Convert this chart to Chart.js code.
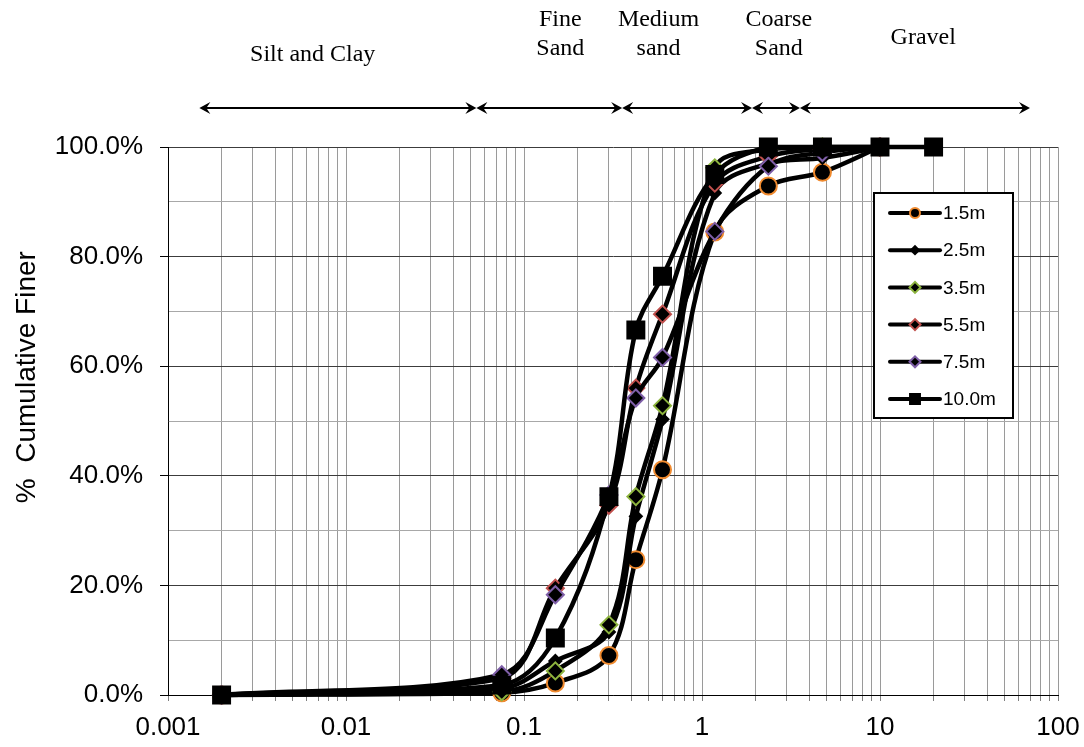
<!DOCTYPE html>
<html>
<head>
<meta charset="utf-8">
<title>Grain size distribution</title>
<script src="https://cdn.jsdelivr.net/npm/chart.js@4.4.0/dist/chart.umd.min.js"></script>
<style>
    html, body { margin: 0; padding: 0; background: #fff; }
    #wrap { width: 1084px; height: 747px; }
</style>
</head>
<body>
<div id="wrap"><canvas id="grading" width="1084" height="747"></canvas></div>
<script>
(function(){
    'use strict';
// -------- data --------
    const sieveSizes = [0.002, 0.075, 0.15, 0.3, 0.425, 0.6, 1.18, 2.36, 4.75, 10, 20];
    const depths = ['1.5m', '2.5m', '3.5m', '5.5m', '7.5m', '10.0m'];
    const finer_1_5 = [0, 0.4, 2.2, 7.2, 24.7, 41.1, 84.5, 92.9, 95.4, 100];
    const finer_2_5 = [0, 1.2, 6.2, 11.5, 32.6, 50.3, 91.6, 97.0, 98.0, 100];
    const finer_3_5 = [0, 0.6, 4.4, 12.8, 36.2, 52.8, 96.2, 99.6, 100, 100];
    const finer_5_5 = [0, 3.0, 19.5, 34.6, 56.0, 69.5, 93.4, 98.3, 99.6, 100];
    const finer_7_5 = [0, 3.7, 18.3, 36.5, 54.2, 61.6, 84.6, 96.5, 99.0, 100];
    const finer_10_0 = [0, 1.8, 10.4, 36.2, 66.6, 76.4, 95.0, 100, 100, 100, 100];

    const xTickLabels = ['0.001', '0.01', '0.1', '1', '10', '100'];
    const yTickLabels = ['0.0%', '20.0%', '40.0%', '60.0%', '80.0%', '100.0%'];

    // soil classes drawn above the plot
    const zoneNames = [['Silt and Clay'], ['Fine', 'Sand'], ['Medium', 'sand'], ['Coarse', 'Sand'], ['Gravel']];
    const zoneLabelAt = [0.0065, 0.16, 0.57, 2.7, 17.5];
    const zoneLimits = [0.0015, 0.054, 0.356, 1.91, 3.55, 69.6];

    // ---- styles ----
    const SANS = '"Liberation Sans", Arial, sans-serif';
    const SERIF = '"Liberation Serif", "Times New Roman", serif';
    const allFiner = [finer_1_5, finer_2_5, finer_3_5, finer_5_5, finer_7_5, finer_10_0];
    const markStyle = [
        {shape: 'circle',  edge: '#F08A2E', r: 8.5, lr: 5},
        {shape: 'rectRot', edge: '#000000', r: 6,   lr: 4},
        {shape: 'rectRot', edge: '#8DB43E', r: 8.5, lr: 5.5},
        {shape: 'rectRot', edge: '#C0504D', r: 8.5, lr: 5.5},
        {shape: 'rectRot', edge: '#7F5FA8', r: 8.5, lr: 5.5},
        {shape: 'rect',    edge: '#000000', r: 12,  lr: 7}
    ];
    const zoneTextTop = [-92, -127, -127, -127, -109];

    const xDecades = xTickLabels.map(parseFloat);
    const yLabelFor = {};
    yTickLabels.forEach(function(l){ yLabelFor[parseFloat(l)] = l; });

    const datasets = depths.map(function(name, i){
        const st = markStyle[i];
        return {
            label: name,
            data: allFiner[i].map(function(v, k){ return {x: sieveSizes[k], y: v}; }),
            borderColor: '#000',
            borderWidth: 4.5,
            tension: 0.35,
            clip: false,
            pointStyle: st.shape,
            pointRadius: st.r,
            pointBackgroundColor: '#000',
            pointBorderColor: st.edge,
            pointBorderWidth: 2,
            order: depths.length - i
        };
    });

    function drawMarker(ctx, shape, x, y, r, edge){
        ctx.beginPath();
        if (shape === 'circle') {
            ctx.arc(x, y, r, 0, Math.PI * 2);
        } else if (shape === 'rectRot') {
            ctx.moveTo(x - r, y); ctx.lineTo(x, y - r);
            ctx.lineTo(x + r, y); ctx.lineTo(x, y + r);
            ctx.closePath();
        } else {
            const s = r * Math.SQRT1_2;
            ctx.rect(x - s, y - s, 2 * s, 2 * s);
        }
        ctx.fillStyle = '#000';
        ctx.fill();
        ctx.lineWidth = 2;
        ctx.strokeStyle = edge;
        ctx.stroke();
    }

    function arrowHead(ctx, tipX, y, dir){
        // dir = -1 points left, 1 points right
        ctx.beginPath();
        ctx.moveTo(tipX, y);
        ctx.lineTo(tipX - dir * 11, y - 6);
        ctx.lineTo(tipX - dir * 7, y);
        ctx.lineTo(tipX - dir * 11, y + 6);
        ctx.closePath();
        ctx.fill();
    }

    const extras = {
        id: 'extras',
        afterDraw: function(chart){
            const ctx = chart.ctx;
            const area = chart.chartArea;
            const xs = chart.scales.x;
            ctx.save();

            // y axis title
            ctx.save();
            ctx.translate(27, area.top + 0.42 * (area.bottom - area.top));
            ctx.rotate(-Math.PI / 2);
            ctx.font = '28px ' + SANS;
            ctx.fillStyle = '#000';
            ctx.textAlign = 'center';
            ctx.textBaseline = 'middle';
            ctx.fillText('%  Cumulative Finer', 0, 0);
            ctx.restore();

            // class arrows
            const ay = area.top - 39;
            ctx.strokeStyle = '#000';
            ctx.fillStyle = '#000';
            ctx.lineWidth = 2;
            for (let i = 0; i < zoneLimits.length - 1; i++) {
                const x1 = xs.getPixelForValue(zoneLimits[i]);
                const x2 = xs.getPixelForValue(zoneLimits[i + 1]);
                ctx.beginPath();
                ctx.moveTo(x1 + 4, ay);
                ctx.lineTo(x2 - 4, ay);
                ctx.stroke();
                arrowHead(ctx, x1, ay, -1);
                arrowHead(ctx, x2, ay, 1);
            }

            // class names
            ctx.font = '24px ' + SERIF;
            ctx.textAlign = 'center';
            ctx.textBaseline = 'middle';
            zoneNames.forEach(function(lines, i){
                const cx = xs.getPixelForValue(zoneLabelAt[i]);
                lines.forEach(function(t, k){
                    ctx.fillText(t, cx, area.top + zoneTextTop[i] + k * 29);
                });
            });

            // legend box
            const bx = area.right - 184, by = area.top + 46, bw = 139, bh = 225;
            ctx.fillStyle = '#fff';
            ctx.fillRect(bx, by, bw, bh);
            ctx.lineWidth = 2;
            ctx.strokeStyle = '#000';
            ctx.strokeRect(bx, by, bw, bh);
            ctx.font = '19px ' + SANS;
            ctx.textAlign = 'left';
            ctx.textBaseline = 'middle';
            depths.forEach(function(name, i){
                const ry = by + 20 + i * 37.2;
                const st = markStyle[i];
                ctx.beginPath();
                ctx.lineWidth = 4;
                ctx.lineCap = 'round';
                ctx.strokeStyle = '#000';
                ctx.moveTo(bx + 16, ry);
                ctx.lineTo(bx + 66, ry);
                ctx.stroke();
                ctx.lineCap = 'butt';
                drawMarker(ctx, st.shape, bx + 41, ry, st.lr, st.edge);
                ctx.fillStyle = '#000';
                ctx.fillText(name, bx + 69, ry + 1);
            });
            ctx.restore();
        }
    };

    new Chart('grading', {
        type: 'line',
        data: {datasets: datasets},
        plugins: [extras],
        options: {
            responsive: false,
            animation: false,
            layout: {padding: {top: 147, right: 26, bottom: 0, left: 0}},
            plugins: {
                legend: {display: false},
                tooltip: {enabled: false}
            },
            scales: {
                x: {
                    type: 'logarithmic',
                    min: 0.001,
                    max: 100,
                    afterBuildTicks: function(scale){
                        const t = [];
                        xDecades.forEach(function(d, i){
                            t.push({value: d, major: true});
                            if (i < xDecades.length - 1) {
                                for (let k = 2; k <= 9; k++) t.push({value: d * k, major: false});
                            }
                        });
                        scale.ticks = t;
                    },
                    afterFit: function(scale){
                        scale.height = 52;
                        scale.paddingLeft = 0;
                        scale.paddingRight = 0;
                    },
                    grid: {color: '#9a9a9a', lineWidth: 1, tickLength: 6, tickColor: '#808080'},
                    border: {color: '#000', width: 1},
                    ticks: {
                        autoSkip: false,
                        maxRotation: 0,
                        padding: 11,
                        color: '#000',
                        font: {family: SANS, size: 26},
                        callback: function(value, index, ticks){
                            const k = xDecades.indexOf(ticks[index].value);
                            return k >= 0 ? xTickLabels[k] : '';
                        }
                    }
                },
                y: {
                    min: 0,
                    max: 100,
                    afterFit: function(scale){ scale.width = 168; },
                    grid: {
                        color: function(c){ return c.tick.value % 20 === 0 ? '#3c3c3c' : '#a8a8a8'; },
                        tickColor: function(c){ return c.tick.value % 20 === 0 ? '#000' : 'rgba(0,0,0,0)'; },
                        tickLength: 8
                    },
                    border: {color: '#000', width: 1},
                    ticks: {
                        stepSize: 10,
                        padding: 17,
                        color: '#000',
                        font: {family: SANS, size: 26},
                        callback: function(value){ return yLabelFor[value] || ''; }
                    }
                }
            }
        }
    });
}());
</script>
</body>
</html>
